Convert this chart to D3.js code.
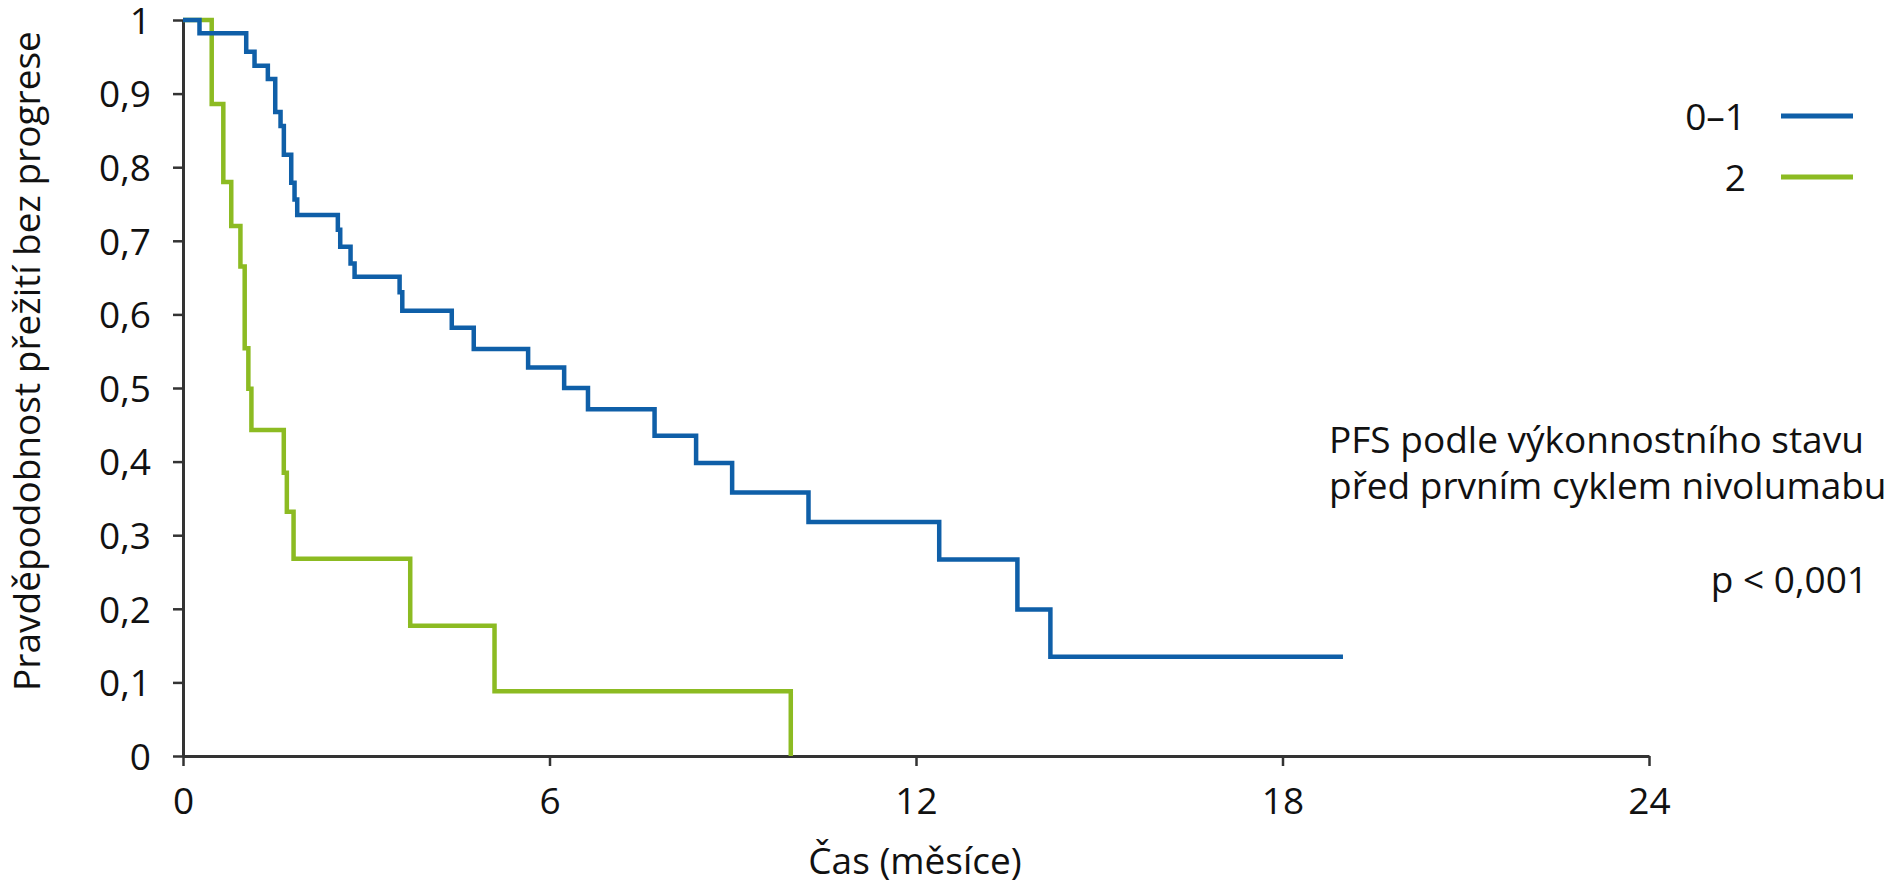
<!DOCTYPE html>
<html>
<head>
<meta charset="utf-8">
<script src="https://cdn.jsdelivr.net/npm/d3@7/dist/d3.min.js"></script>
<style>
  html, body { margin: 0; padding: 0; background: #fff; }
  svg { display: block; }
  text { font-family: "Open Sans", "Noto Sans", sans-serif; fill: #111; }
</style>
</head>
<body>
<svg id="chart" width="1893" height="886"></svg>
<script>
// ---- data ----
const timeTicks = [0, 6, 12, 18, 24];
const probTicks = [0, 0.1, 0.2, 0.3, 0.4, 0.5, 0.6, 0.7, 0.8, 0.9, 1];

const seriesNames = ["0–1", "2"];
const seriesColors = ["#0f5fa8", "#8cbb22"];

// group 0–1 : step times (months) and survival after each step
const blueTimes = [0, 0.27, 1.035, 1.171, 1.389, 1.51, 1.597, 1.651, 1.772, 1.826, 1.87, 2.535, 2.574, 2.743, 2.809, 3.546, 3.59, 4.40, 4.76, 5.65, 6.24, 6.63, 7.72, 8.40, 8.99, 10.24, 12.38, 13.66, 14.20, 18.99];
const blueSurv  = [1, 0.982, 0.957, 0.938, 0.920, 0.875, 0.856, 0.817, 0.779, 0.756, 0.735, 0.715, 0.692, 0.669, 0.651, 0.630, 0.605, 0.582, 0.553, 0.528, 0.500, 0.471, 0.435, 0.398, 0.358, 0.318, 0.267, 0.199, 0.135, 0.135];

// group 2
const greenTimes = [0, 0.47, 0.66, 0.79, 0.94, 1.01, 1.07, 1.12, 1.65, 1.70, 1.81, 3.72, 5.10, 9.95];
const greenSurv  = [1, 0.886, 0.780, 0.720, 0.665, 0.554, 0.499, 0.443, 0.385, 0.332, 0.268, 0.177, 0.088, 0];

const xTitle = "Čas (měsíce)";
const yTitle = "Pravděpodobnost přežití bez progrese";
const noteLines = ["PFS podle výkonnostního stavu", "před prvním cyklem nivolumabu"];
const pText = "p < 0,001";

// ---- layout ----
const svg = d3.select("#chart");
const x = d3.scaleLinear().domain([0, 24]).range([183, 1649]);
const y = d3.scaleLinear().domain([0, 1]).range([756, 20]);
const fontSize = 37;
const axisColor = "#333";

const fmt = v => (v === 0 || v === 1) ? String(v) : d3.format(".1f")(v).replace(".", ",");

// y axis
const yAxis = svg.append("g").attr("transform", `translate(${x(0)},0)`)
  .call(d3.axisLeft(y).tickValues(probTicks).tickFormat(fmt).tickSize(10).tickPadding(22).tickSizeOuter(0));
// x axis
const xAxis = svg.append("g").attr("transform", `translate(0,${y(0)})`)
  .call(d3.axisBottom(x).tickValues(timeTicks).tickSize(10).tickPadding(22).tickSizeOuter(0));

[yAxis, xAxis].forEach(g => {
  g.select(".domain").attr("stroke", axisColor).attr("stroke-width", 3);
  g.selectAll(".tick line").attr("stroke", axisColor).attr("stroke-width", 2.5);
  g.selectAll(".tick text").attr("font-size", fontSize).attr("fill", "#111")
    .style("font-family", '"Open Sans", "Noto Sans", sans-serif');
});
yAxis.selectAll(".tick text").attr("dy", "0.36em");
xAxis.selectAll(".tick text").attr("dy", "0.71em");

// curves
const line = d3.line().x(d => x(d[0])).y(d => y(d[1])).curve(d3.curveStepAfter);
const greenData = greenTimes.map((t, i) => [t, greenSurv[i]]);
const blueData = blueTimes.map((t, i) => [t, blueSurv[i]]);

svg.append("path").datum(greenData).attr("d", line)
  .attr("fill", "none").attr("stroke", seriesColors[1]).attr("stroke-width", 4.5)
  .attr("stroke-linejoin", "miter").attr("stroke-linecap", "butt");
svg.append("path").datum(blueData).attr("d", line)
  .attr("fill", "none").attr("stroke", seriesColors[0]).attr("stroke-width", 4.5)
  .attr("stroke-linejoin", "miter").attr("stroke-linecap", "butt");

// axis titles
svg.append("text").attr("x", (x(0) + x(24)) / 2 - 1).attr("y", 874)
  .attr("text-anchor", "middle").attr("font-size", fontSize).text(xTitle);
svg.append("text").attr("transform", `translate(40,${361}) rotate(-90)`)
  .attr("text-anchor", "middle").attr("font-size", fontSize).text(yTitle);

// legend
const legendY = [116, 177];
seriesNames.forEach((name, i) => {
  svg.append("line").attr("x1", 1781).attr("x2", 1853).attr("y1", legendY[i]).attr("y2", legendY[i])
    .attr("stroke", seriesColors[i]).attr("stroke-width", 5);
  svg.append("text").attr("x", 1746).attr("y", legendY[i] + 14).attr("text-anchor", "end")
    .attr("font-size", fontSize).text(name);
});

// note
noteLines.forEach((t, i) => {
  svg.append("text").attr("x", 1329).attr("y", 453 + i * 46).attr("font-size", fontSize).text(t);
});
svg.append("text").attr("x", 1868).attr("y", 593).attr("text-anchor", "end")
  .attr("font-size", fontSize).text(pText);
</script>
</body>
</html>
